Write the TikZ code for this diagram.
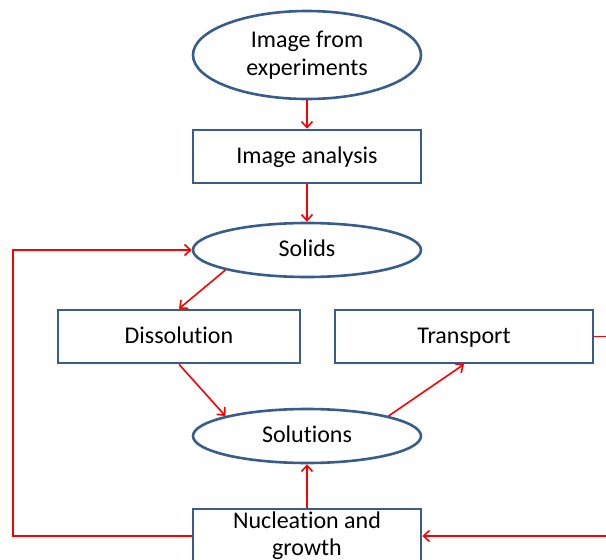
\documentclass[tikz,border=0pt]{standalone}
\usepackage{fontspec}
\setmainfont[Ligatures=NoCommon]{Carlito}
\usetikzlibrary{shapes.geometric,arrows.meta}
\definecolor{edgeblue}{HTML}{385D8A}
\definecolor{arrred}{HTML}{FF0000}
\tikzset{
  ovalnode/.style={ellipse,draw=edgeblue,line width=2.6pt,fill=white,inner sep=0pt,minimum width=228pt,align=center,font=\fontsize{24}{28}\selectfont},
  boxnode/.style={rectangle,draw=edgeblue,line width=2.6pt,fill=white,inner sep=0pt,align=center,font=\fontsize{24}{27}\selectfont},
  oneline/.style={text height=16pt,text depth=3pt},
  flow/.style={draw=arrred,line width=1.6pt,-{Straight Barb[length=6pt,width=11pt,line width=1.6pt]}}
}
\begin{document}
\begin{tikzpicture}[x=1pt,y=-1pt]
\useasboundingbox (0,0) rectangle (606,560);
\clip (0,0) rectangle (606,560);
\node[ovalnode,minimum height=88pt] (img) at (307,55) {Image from\\experiments};
\node[boxnode,oneline,minimum width=228pt,minimum height=53pt] (ana) at (307,156.5) {Image analysis};
\node[ovalnode,oneline,minimum height=54pt] (sol) at (307,250) {Solids};
\node[boxnode,oneline,minimum width=242pt,minimum height=53pt] (dis) at (179,336.5) {Dissolution};
\node[boxnode,oneline,minimum width=258pt,minimum height=53pt] (tra) at (464,336.5) {Transport};
\node[ovalnode,oneline,minimum height=54pt] (sln) at (307,436) {Solutions};
\node[boxnode,minimum width=228pt,minimum height=54pt] (nuc) at (307,536) {Nucleation and\\growth};
\coordinate (L) at (13,250);
\coordinate (R) at (612,336.5);
\draw[flow] (img.south) -- (ana.north);
\draw[flow] (ana.south) -- (sol.north);
\draw[flow] (sol.south west) -- (dis.north);
\draw[flow] (dis.south) -- (sln.north west);
\draw[flow] (sln.north east) -- (tra.south);
\draw[flow] (nuc.north) -- (sln.south);
\draw[flow] (nuc.west) -| (L) -- (sol.west);
\draw[flow] (tra.east) -- (R) |- (nuc.east);
\end{tikzpicture}
\end{document}
